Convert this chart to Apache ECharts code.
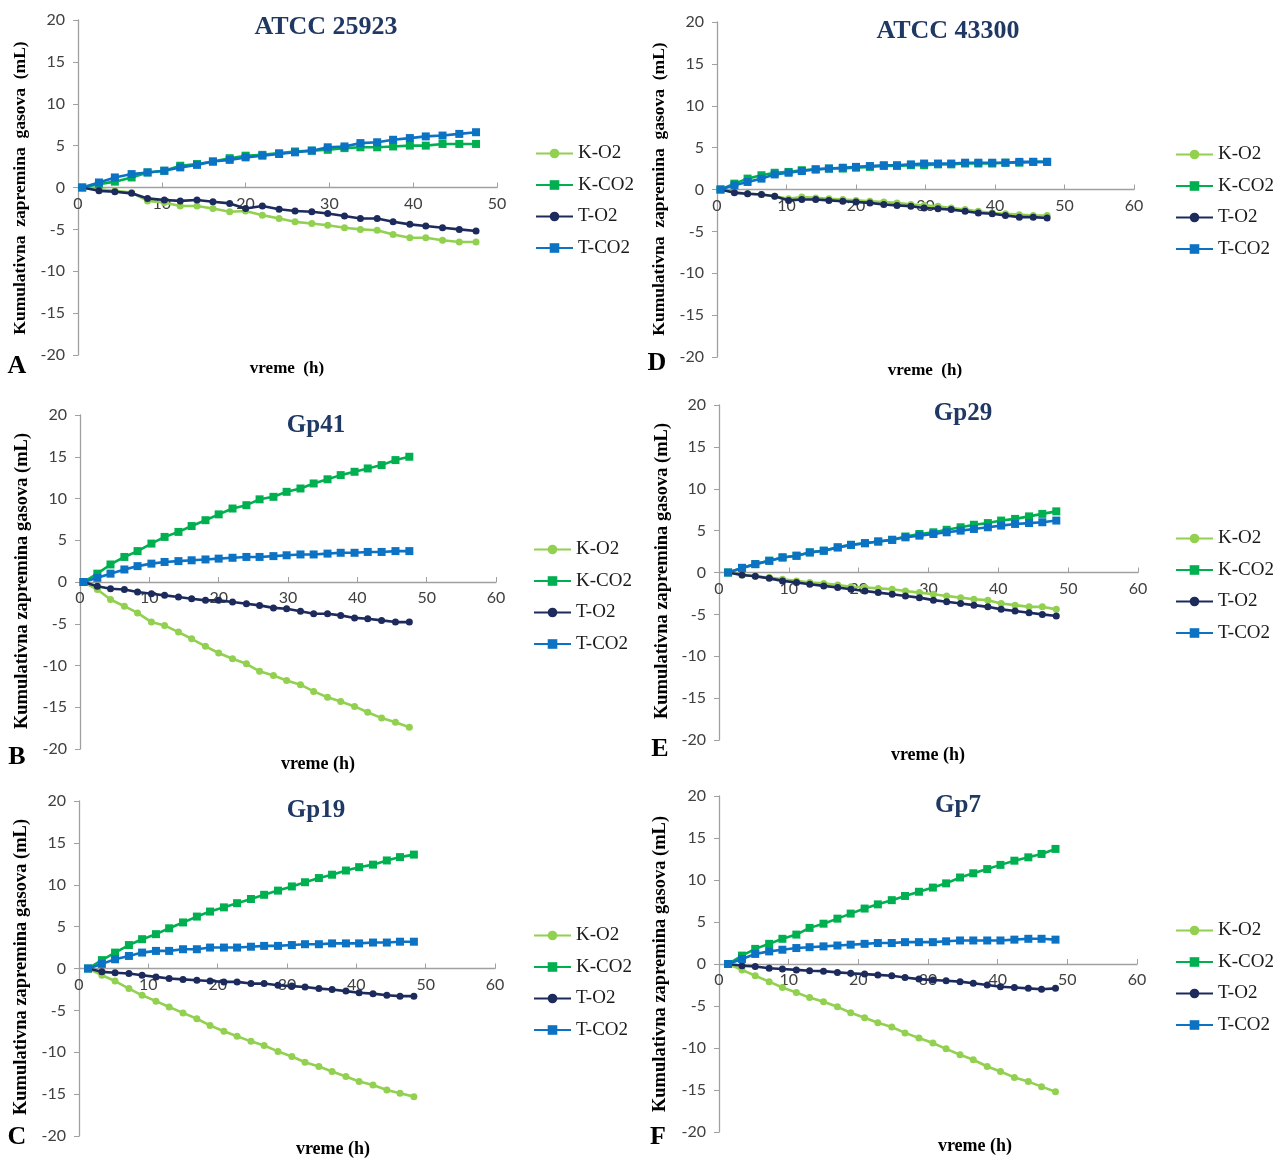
<!DOCTYPE html>
<html>
<head>
<meta charset="utf-8">
<script src="https://cdn.jsdelivr.net/npm/echarts@6/dist/echarts.min.js"></script>
<style>
  html, body { margin: 0; padding: 0; background: #fff; }
  #main { width: 1283px; height: 1160px; }
</style>
</head>
<body>
<div id="main"></div>
<script>
// vreme (h) - merenja na ~2h
const time1 = [0.5, 2.5, 4.4, 6.4, 8.3, 10.3, 12.2, 14.2, 16.1, 18.1, 20.0, 22.0, 24.0, 25.9, 27.9, 29.8, 31.8, 33.7, 35.7, 37.6, 39.6, 41.5, 43.5, 45.5, 47.5]
const time2 = [1.3, 3.3, 5.2, 7.2, 9.1, 11.1, 13.0, 15.0, 17.0, 18.9, 20.9, 22.8, 24.8, 26.7, 28.7, 30.7, 32.6, 34.6, 36.5, 38.5, 40.4, 42.4, 44.4, 46.3, 48.3]

const seriesNames = ['K-O2', 'K-CO2', 'T-O2', 'T-CO2']
const yTicks = [-20, -15, -10, -5, 0, 5, 10, 15, 20]

// A - ATCC 25923
const aKO2 = [0, -0.2, -0.4, -0.6, -1.6, -1.8, -2.2, -2.2, -2.5, -2.9, -2.8, -3.3, -3.7, -4.1, -4.3, -4.5, -4.8, -5.0, -5.1, -5.6, -6.0, -6.0, -6.3, -6.5, -6.5]
const aKCO2 = [0, 0.4, 0.7, 1.2, 1.8, 2.0, 2.6, 2.8, 3.1, 3.5, 3.8, 3.9, 4.1, 4.3, 4.4, 4.5, 4.7, 4.8, 4.8, 4.9, 5.0, 5.0, 5.2, 5.2, 5.2]
const aTO2 = [0, -0.4, -0.5, -0.7, -1.3, -1.5, -1.6, -1.5, -1.7, -1.9, -2.5, -2.2, -2.6, -2.8, -2.9, -3.1, -3.4, -3.7, -3.7, -4.1, -4.4, -4.6, -4.8, -5.0, -5.2]
const aTCO2 = [0, 0.6, 1.2, 1.6, 1.8, 2.0, 2.4, 2.7, 3.1, 3.3, 3.6, 3.8, 4.0, 4.2, 4.4, 4.8, 4.9, 5.3, 5.4, 5.7, 5.9, 6.1, 6.2, 6.4, 6.6]

// D - ATCC 43300
const dKO2 = [0, -0.3, -0.5, -0.6, -0.8, -1.1, -0.9, -1.0, -1.1, -1.2, -1.3, -1.4, -1.5, -1.6, -1.8, -1.9, -2.0, -2.2, -2.4, -2.6, -2.8, -2.9, -3.0, -3.1, -3.1]
const dKCO2 = [0, 0.7, 1.3, 1.7, 2.0, 2.1, 2.3, 2.4, 2.5, 2.5, 2.6, 2.7, 2.8, 2.8, 2.9, 2.9, 3.0, 3.0, 3.1, 3.1, 3.1, 3.2, 3.2, 3.3, 3.3]
const dTO2 = [0, -0.4, -0.5, -0.6, -0.8, -1.3, -1.2, -1.2, -1.3, -1.4, -1.5, -1.6, -1.8, -1.9, -2.0, -2.2, -2.3, -2.4, -2.6, -2.8, -2.9, -3.1, -3.3, -3.3, -3.4]
const dTCO2 = [0, 0.5, 0.9, 1.3, 1.8, 2.0, 2.2, 2.4, 2.5, 2.6, 2.7, 2.8, 2.9, 2.9, 3.0, 3.1, 3.1, 3.1, 3.2, 3.2, 3.2, 3.2, 3.3, 3.3, 3.3]

// B - Gp41
const bKO2 = [0, -0.9, -2.1, -2.9, -3.7, -4.8, -5.2, -6.0, -6.8, -7.7, -8.5, -9.2, -9.8, -10.7, -11.2, -11.8, -12.3, -13.1, -13.8, -14.3, -14.9, -15.6, -16.3, -16.8, -17.4]
const bKCO2 = [0, 1.0, 2.1, 3.0, 3.7, 4.6, 5.4, 6.0, 6.7, 7.4, 8.1, 8.8, 9.2, 9.9, 10.2, 10.8, 11.2, 11.8, 12.3, 12.8, 13.2, 13.6, 14.0, 14.6, 15.0]
const bTO2 = [0, -0.5, -0.8, -0.9, -1.2, -1.4, -1.6, -1.8, -2.0, -2.2, -2.2, -2.4, -2.6, -2.8, -3.1, -3.2, -3.5, -3.8, -3.8, -4.0, -4.3, -4.4, -4.6, -4.8, -4.8]
const bTCO2 = [0, 0.5, 1.0, 1.5, 1.9, 2.2, 2.4, 2.5, 2.6, 2.7, 2.8, 2.9, 3.0, 3.0, 3.1, 3.2, 3.3, 3.3, 3.4, 3.5, 3.5, 3.6, 3.6, 3.7, 3.7]

// E - Gp29
const eKO2 = [0, -0.3, -0.45, -0.6, -0.8, -1.0, -1.2, -1.3, -1.5, -1.7, -1.8, -1.9, -2.0, -2.2, -2.4, -2.6, -2.8, -3.0, -3.2, -3.3, -3.7, -3.9, -4.1, -4.1, -4.4]
const eKCO2 = [0, 0.55, 1.0, 1.4, 1.8, 2.0, 2.4, 2.6, 3.0, 3.3, 3.5, 3.7, 3.9, 4.3, 4.6, 4.8, 5.1, 5.4, 5.7, 5.9, 6.2, 6.4, 6.7, 7.0, 7.3]
const eTO2 = [0, -0.3, -0.45, -0.7, -1.0, -1.2, -1.4, -1.6, -1.8, -2.0, -2.2, -2.4, -2.6, -2.8, -3.0, -3.3, -3.5, -3.7, -3.9, -4.1, -4.4, -4.6, -4.8, -5.0, -5.2]
const eTCO2 = [0, 0.55, 1.0, 1.4, 1.8, 2.0, 2.4, 2.6, 3.0, 3.3, 3.5, 3.7, 3.9, 4.2, 4.4, 4.6, 4.8, 5.0, 5.2, 5.4, 5.6, 5.8, 5.9, 6.0, 6.2]

// C - Gp19
const cKO2 = [0, -0.8, -1.5, -2.4, -3.2, -3.9, -4.6, -5.3, -6.0, -6.8, -7.5, -8.1, -8.7, -9.2, -9.9, -10.5, -11.2, -11.7, -12.3, -12.9, -13.5, -13.9, -14.5, -14.9, -15.3]
const cKCO2 = [0, 1.0, 1.9, 2.8, 3.5, 4.1, 4.8, 5.5, 6.2, 6.8, 7.3, 7.8, 8.3, 8.8, 9.3, 9.8, 10.3, 10.8, 11.2, 11.7, 12.1, 12.4, 12.9, 13.3, 13.6]
const cTO2 = [0, -0.4, -0.5, -0.6, -0.8, -1.0, -1.2, -1.3, -1.4, -1.5, -1.6, -1.6, -1.8, -1.8, -2.0, -2.1, -2.2, -2.4, -2.5, -2.7, -2.9, -3.0, -3.2, -3.3, -3.3]
const cTCO2 = [0, 0.55, 1.1, 1.5, 1.9, 2.1, 2.1, 2.3, 2.3, 2.5, 2.5, 2.5, 2.6, 2.7, 2.7, 2.8, 2.9, 2.9, 3.0, 3.0, 3.0, 3.1, 3.1, 3.2, 3.2]

// F - Gp7
const fKO2 = [0, -0.7, -1.4, -2.1, -2.8, -3.4, -4.0, -4.5, -5.1, -5.8, -6.4, -7.0, -7.5, -8.2, -8.8, -9.4, -10.1, -10.8, -11.4, -12.2, -12.8, -13.5, -14.0, -14.6, -15.2]
const fKCO2 = [0, 1.0, 1.8, 2.4, 3.0, 3.5, 4.3, 4.8, 5.4, 6.0, 6.6, 7.1, 7.6, 8.1, 8.6, 9.1, 9.6, 10.3, 10.8, 11.3, 11.8, 12.3, 12.7, 13.1, 13.7]
const fTO2 = [0, -0.2, -0.3, -0.5, -0.6, -0.7, -0.8, -0.85, -1.0, -1.1, -1.2, -1.3, -1.4, -1.6, -1.8, -1.9, -2.0, -2.1, -2.3, -2.5, -2.7, -2.8, -2.9, -3.0, -2.9]
const fTCO2 = [0, 0.6, 1.2, 1.5, 1.7, 1.9, 2.0, 2.1, 2.2, 2.3, 2.4, 2.5, 2.5, 2.6, 2.6, 2.6, 2.7, 2.8, 2.8, 2.8, 2.8, 2.9, 3.0, 3.0, 2.9]

const colors = ['#92d050', '#00b050', '#1c2a5c', '#0b72c4']
const symbols = ['circle', 'rect', 'circle', 'rect']
const serif = '"Liberation Serif", "Times New Roman", serif'
const sans = 'Lato, "Open Sans", sans-serif'

// raspored panela
const panels = [
  { letter: 'A', title: 'ATCC 25923', titleSize: 26, time: time1, values: [aKO2, aKCO2, aTO2, aTCO2], xMax: 50,
    grid: { left: 78, top: 20, width: 419, height: 335 }, titleAt: [326, 27], legendAt: [535, 144],
    letterAt: [17, 366], xName: 'vreme  (h)', xNameAt: [287, 369], xNameSize: 17,
    yName: 'Kumulativna  zapremina  gasova  (mL)', yNameAt: [20, 188], yNameSize: 17.5 },
  { letter: 'D', title: 'ATCC 43300', titleSize: 26, time: time1, values: [dKO2, dKCO2, dTO2, dTCO2], xMax: 60,
    grid: { left: 717, top: 22, width: 417, height: 335 }, titleAt: [948, 31], legendAt: [1175, 145],
    letterAt: [657, 363], xName: 'vreme  (h)', xNameAt: [925, 371], xNameSize: 17,
    yName: 'Kumulativna  zapremina  gasova  (mL)', yNameAt: [659, 189], yNameSize: 17.5 },
  { letter: 'B', title: 'Gp41', titleSize: 25, time: time1, values: [bKO2, bKCO2, bTO2, bTCO2], xMax: 60,
    grid: { left: 80, top: 415, width: 416, height: 334 }, titleAt: [316, 426], legendAt: [533, 540],
    letterAt: [17, 757], xName: 'vreme (h)', xNameAt: [318, 764], xNameSize: 18,
    yName: 'Kumulativna zapremina gasova (mL)', yNameAt: [22, 581], yNameSize: 18.5 },
  { letter: 'E', title: 'Gp29', titleSize: 25, time: time2, values: [eKO2, eKCO2, eTO2, eTCO2], xMax: 60,
    grid: { left: 719, top: 405, width: 419, height: 335 }, titleAt: [963, 414], legendAt: [1175, 529],
    letterAt: [660, 749], xName: 'vreme (h)', xNameAt: [928, 755], xNameSize: 18,
    yName: 'Kumulativna zapremina gasova (mL)', yNameAt: [662, 571], yNameSize: 18.5 },
  { letter: 'C', title: 'Gp19', titleSize: 25, time: time2, values: [cKO2, cKCO2, cTO2, cTCO2], xMax: 60,
    grid: { left: 79, top: 801, width: 416, height: 335 }, titleAt: [316, 811], legendAt: [533, 926],
    letterAt: [17, 1137], xName: 'vreme (h)', xNameAt: [333, 1149], xNameSize: 18,
    yName: 'Kumulativna zapremina gasova (mL)', yNameAt: [21, 967], yNameSize: 18.5 },
  { letter: 'F', title: 'Gp7', titleSize: 25, time: time2, values: [fKO2, fKCO2, fTO2, fTCO2], xMax: 60,
    grid: { left: 719, top: 796, width: 418, height: 336 }, titleAt: [958, 806], legendAt: [1175, 921],
    letterAt: [658, 1137], xName: 'vreme (h)', xNameAt: [975, 1146], xNameSize: 18,
    yName: 'Kumulativna zapremina gasova (mL)', yNameAt: [660, 964], yNameSize: 18.5 }
]

const axisGray = '#a0a0a0'
const option = { animation: false, backgroundColor: '#fff', grid: [], xAxis: [], yAxis: [], series: [], legend: [], graphic: [] }

panels.forEach((p, idx) => {
  option.grid.push(Object.assign({ containLabel: false }, p.grid))
  // x osa ide kroz nulu (sredina opsega -20..20)
  option.xAxis.push({
    type: 'value', gridIndex: idx, min: 0, max: p.xMax, interval: 10,
    offset: -p.grid.height / 2,
    axisLine: { onZero: false, lineStyle: { color: axisGray, width: 1.3 } },
    axisTick: { show: true, inside: true, length: 5, lineStyle: { color: axisGray } },
    axisLabel: { color: '#404040', fontFamily: sans, fontSize: 16, margin: 8 },
    splitLine: { show: false }
  })
  option.yAxis.push({
    type: 'value', gridIndex: idx, min: -20, max: 20, interval: 5,
    axisLine: { show: true, lineStyle: { color: axisGray, width: 1.3 } },
    axisTick: { show: true, length: 5, lineStyle: { color: axisGray } },
    axisLabel: { color: '#404040', fontFamily: sans, fontSize: 16, margin: 13,
      formatter: v => yTicks.includes(v) ? String(v) : '' },
    splitLine: { show: false }
  })
  seriesNames.forEach((name, s) => {
    option.series.push({
      name, type: 'line', xAxisIndex: idx, yAxisIndex: idx,
      data: p.time.map((t, i) => [t, p.values[s][i]]),
      symbol: symbols[s], symbolSize: s % 2 ? 8 : 7,
      lineStyle: { color: colors[s], width: 2.6 },
      itemStyle: { color: colors[s] },
      z: 2 + s
    })
  })
  option.legend.push({
    orient: 'vertical', left: p.legendAt[0], top: p.legendAt[1], padding: 0,
    data: seriesNames, itemWidth: 37, itemHeight: 12, itemGap: 12.5,
    selectedMode: false,
    textStyle: { fontFamily: serif, fontSize: 19, color: '#1a1a1a' }
  })
  option.graphic.push(
    { type: 'text', x: p.titleAt[0], y: p.titleAt[1],
      style: { text: p.title, fill: '#1f3864', font: 'bold ' + p.titleSize + 'px ' + serif, textAlign: 'center', textVerticalAlign: 'middle' } },
    { type: 'text', x: p.letterAt[0], y: p.letterAt[1],
      style: { text: p.letter, fill: '#000', font: 'bold 26px ' + serif, textAlign: 'center', textVerticalAlign: 'middle' } },
    { type: 'text', x: p.xNameAt[0], y: p.xNameAt[1],
      style: { text: p.xName, fill: '#000', font: 'bold ' + p.xNameSize + 'px ' + serif, textAlign: 'center', textVerticalAlign: 'middle' } },
    { type: 'text', x: p.yNameAt[0], y: p.yNameAt[1], rotation: Math.PI / 2,
      style: { text: p.yName, fill: '#000', font: 'bold ' + p.yNameSize + 'px ' + serif, textAlign: 'center', textVerticalAlign: 'middle' } }
  )
})

const chart = echarts.init(document.getElementById('main'), null, { renderer: 'canvas' })
chart.setOption(option)
</script>
</body>
</html>
